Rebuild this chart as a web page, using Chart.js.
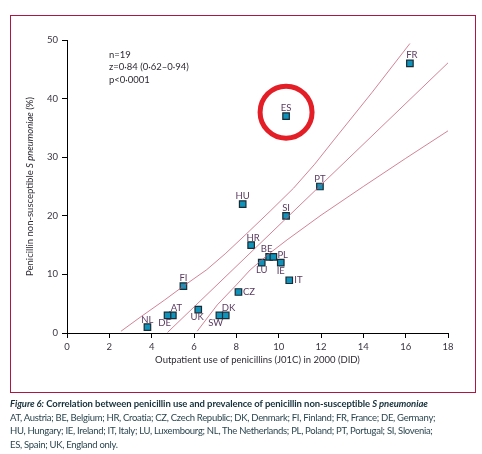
<!DOCTYPE html>
<html>
<head>
<meta charset="utf-8">
<script src="https://cdn.jsdelivr.net/npm/chart.js@4.4.0/dist/chart.umd.min.js"></script>
<style>
    html, body { margin: 0; padding: 0; background: #fff; }
    #wrap { position: relative; width: 482px; height: 454px; }
    #fig { position: absolute; left: 0; top: 0; }
    .caption { position: absolute; left: 10px; top: 397px; width: 472px; font-family: Lato, sans-serif; font-size: 9.5px; letter-spacing: -0.3px; line-height: 13.6px; color: #2c4650; white-space: nowrap; }
    .caption b { color: #16303a; letter-spacing: -0.08px; }
</style>
</head>
<body>
<div id="wrap">
    <canvas id="fig" width="482" height="454"></canvas>
    <div class="caption">
        <b><i>Figure 6:</i> Correlation between penicillin use and prevalence of penicillin non-susceptible <i>S pneumoniae</i></b><br>
        AT, Austria; BE, Belgium; HR, Croatia; CZ, Czech Republic; DK, Denmark; FI, Finland; FR, France; DE, Germany;<br>
        HU, Hungary; IE, Ireland; IT, Italy; LU, Luxembourg; NL, The Netherlands; PL, Poland; PT, Portugal; SI, Slovenia;<br>
        ES, Spain; UK, England only.
    </div>
</div>
<script>
"use strict";

/* country data */
var countries = ['FR', 'ES', 'PT', 'HU', 'SI', 'HR', 'BE', 'PL', 'LU', 'IE', 'IT', 'CZ', 'FI', 'AT', 'DE', 'NL', 'UK', 'SW', 'DK'];
var penicillinUse = [16.2, 10.35, 11.95, 8.3, 10.35, 8.7, 9.55, 9.75, 9.2, 10.1, 10.5, 8.1, 5.5, 5.0, 4.75, 3.8, 6.2, 7.2, 7.5];
var nonSusceptible = [46, 37, 25, 22, 20, 15, 13, 13, 12, 12, 9, 7, 8, 3, 3, 1, 4, 3, 3];

/* regression line and 95% band */
var fitX = [4.75, 18];
var fitY = [0.1, 46.1];
var upperX = [2.55, 3.5, 4.6, 5.5, 6.6, 7.5, 8.5, 9.6, 10.7, 11.7, 12.6, 14.4, 16.2];
var upperY = [0.3, 2.8, 5.6, 8.0, 10.8, 13.6, 17.0, 20.8, 24.7, 28.8, 32.9, 41.0, 49.4];
var lowerX = [6.15, 7.1, 8.0, 8.65, 9.5, 10.4, 12.0, 14.0, 16.0, 18.0];
var lowerY = [0.3, 4.8, 8.2, 10.75, 13.4, 15.9, 20.1, 25.0, 29.8, 34.5];

var xTicks = [0, 2, 4, 6, 8, 10, 12, 14, 16, 18];
var yTicks = [0, 10, 20, 30, 40, 50];

var statLines = ['n=19', 'z=0\u00b784 (0\u00b762\u20130\u00b794)', 'p<0\u00b70001'];
var highlighted = 'ES';

/* label placement: [dx, dy, align] relative to square centre */
var labelPos = {
    FR: [2, -8.5, 'center'], ES: [0, -8, 'center'], PT: [0, -7.5, 'center'], HU: [0, -8, 'center'],
    SI: [0, -8, 'center'], HR: [2, -7.5, 'center'], BE: [-2.5, -8, 'center'], PL: [4, -1.5, 'left'],
    LU: [0, 7.5, 'center'], IE: [0, 8, 'center'], IT: [5, 0, 'left'], CZ: [4.5, 0, 'left'],
    FI: [0, -8, 'center'], AT: [3.5, -7.6, 'center'], DE: [-3, 7.7, 'center'], NL: [0, -7.4, 'center'],
    UK: [-1, 7.7, 'center'], SW: [-3.7, 7.7, 'center'], DK: [2.7, -7, 'center']
};

function pairs(xs, ys) {
    return xs.map(function (x, i) { return { x: x, y: ys[i] }; });
}

Chart.defaults.font.family = 'Lato, sans-serif';

var lineStyle = {
    type: 'line',
    borderColor: 'rgba(196, 90, 115, 0.75)',
    borderWidth: 1,
    pointRadius: 0,
    fill: false,
    tension: 0
};

var figurePlugin = {
    id: 'figurePlugin',
    beforeDraw: function (chart) {
        var ctx = chart.ctx;
        ctx.save();
        ctx.fillStyle = '#fff';
        ctx.fillRect(0, 0, chart.width, chart.height);
        ctx.strokeStyle = '#ad1842';
        ctx.lineWidth = 1;
        ctx.strokeRect(10.5, 15.5, 465, 377);
        ctx.restore();
    },
    afterDraw: function (chart) {
        var ctx = chart.ctx;
        var area = chart.chartArea;
        var meta = chart.getDatasetMeta(3);
        ctx.save();

        /* country codes */
        ctx.font = '9.5px Lato, sans-serif';
        ctx.fillStyle = '#5a3a60';
        ctx.textBaseline = 'middle';
        meta.data.forEach(function (pt, i) {
            var p = labelPos[countries[i]];
            ctx.textAlign = p[2];
            ctx.fillText(countries[i], pt.x + p[0], pt.y + p[1]);
        });

        /* stats box */
        ctx.font = '9.5px Lato, sans-serif';
        ctx.fillStyle = '#2e2a33';
        ctx.textAlign = 'left';
        statLines.forEach(function (t, i) {
            ctx.fillText(t, area.left + 42, 54.5 + i * 12.8);
        });

        /* axis titles */
        ctx.fillStyle = '#2e2a33';
        ctx.textAlign = 'center';
        ctx.font = '9.5px Lato, sans-serif';
        ctx.fillText('Outpatient use of penicillins (J01C) in 2000 (DID)', (area.left + area.right) / 2, 360);

        ctx.translate(30, (area.top + area.bottom) / 2);
        ctx.rotate(-Math.PI / 2);
        var parts = [['Penicillin non-susceptible ', ''], ['S pneumoniae', 'italic '], [' (%)', '']];
        var total = 0;
        parts.forEach(function (p) {
            ctx.font = p[1] + '9.5px Lato, sans-serif';
            total += ctx.measureText(p[0]).width;
        });
        var x = -total / 2;
        ctx.textAlign = 'left';
        parts.forEach(function (p) {
            ctx.font = p[1] + '9.5px Lato, sans-serif';
            ctx.fillText(p[0], x, 0);
            x += ctx.measureText(p[0]).width;
        });
        ctx.restore();

        /* red ring round the highlighted country */
        var hp = meta.data[countries.indexOf(highlighted)];
        ctx.save();
        ctx.strokeStyle = '#e41e26';
        ctx.lineWidth = 5;
        ctx.beginPath();
        ctx.arc(hp.x, hp.y - 4, 26, 0, Math.PI * 2);
        ctx.stroke();
        ctx.restore();
    }
};

var ctx = document.getElementById('fig').getContext('2d');
var chart = new Chart(ctx, {
    type: 'scatter',
    data: {
        datasets: [
            Object.assign({ data: pairs(upperX, upperY) }, lineStyle),
            Object.assign({ data: pairs(fitX, fitY) }, lineStyle),
            Object.assign({ data: pairs(lowerX, lowerY) }, lineStyle),
            {
                data: pairs(penicillinUse, nonSusceptible),
                pointStyle: 'rect',
                pointRadius: 4.6,
                pointHoverRadius: 4.6,
                backgroundColor: '#0f93bb',
                borderColor: '#1b2a33',
                borderWidth: 1.2
            }
        ]
    },
    options: {
        responsive: false,
        animation: false,
        events: [],
        layout: { padding: { left: 0, top: 40, right: 34, bottom: 81 } },
        plugins: {
            legend: { display: false },
            tooltip: { enabled: false }
        },
        scales: {
            x: {
                type: 'linear',
                min: 0,
                max: 18,
                afterFit: function (s) { s.height = 40; },
                afterBuildTicks: function (s) { s.ticks = xTicks.map(function (v) { return { value: v }; }); },
                border: { display: true, color: '#000', width: 1 },
                grid: { drawOnChartArea: false, drawTicks: true, tickLength: 5, color: '#000' },
                ticks: { color: '#3a3440', font: { size: 9.5 }, padding: 3, maxRotation: 0 }
            },
            y: {
                type: 'linear',
                min: 0,
                max: 50,
                afterFit: function (s) { s.width = 67; },
                afterBuildTicks: function (s) { s.ticks = yTicks.map(function (v) { return { value: v }; }); },
                border: { display: true, color: '#000', width: 1 },
                grid: { drawOnChartArea: false, drawTicks: true, tickLength: 5, color: '#000' },
                ticks: { color: '#3a3440', font: { size: 9.5 }, padding: 4 }
            }
        }
    },
    plugins: [figurePlugin]
});
</script>
</body>
</html>
